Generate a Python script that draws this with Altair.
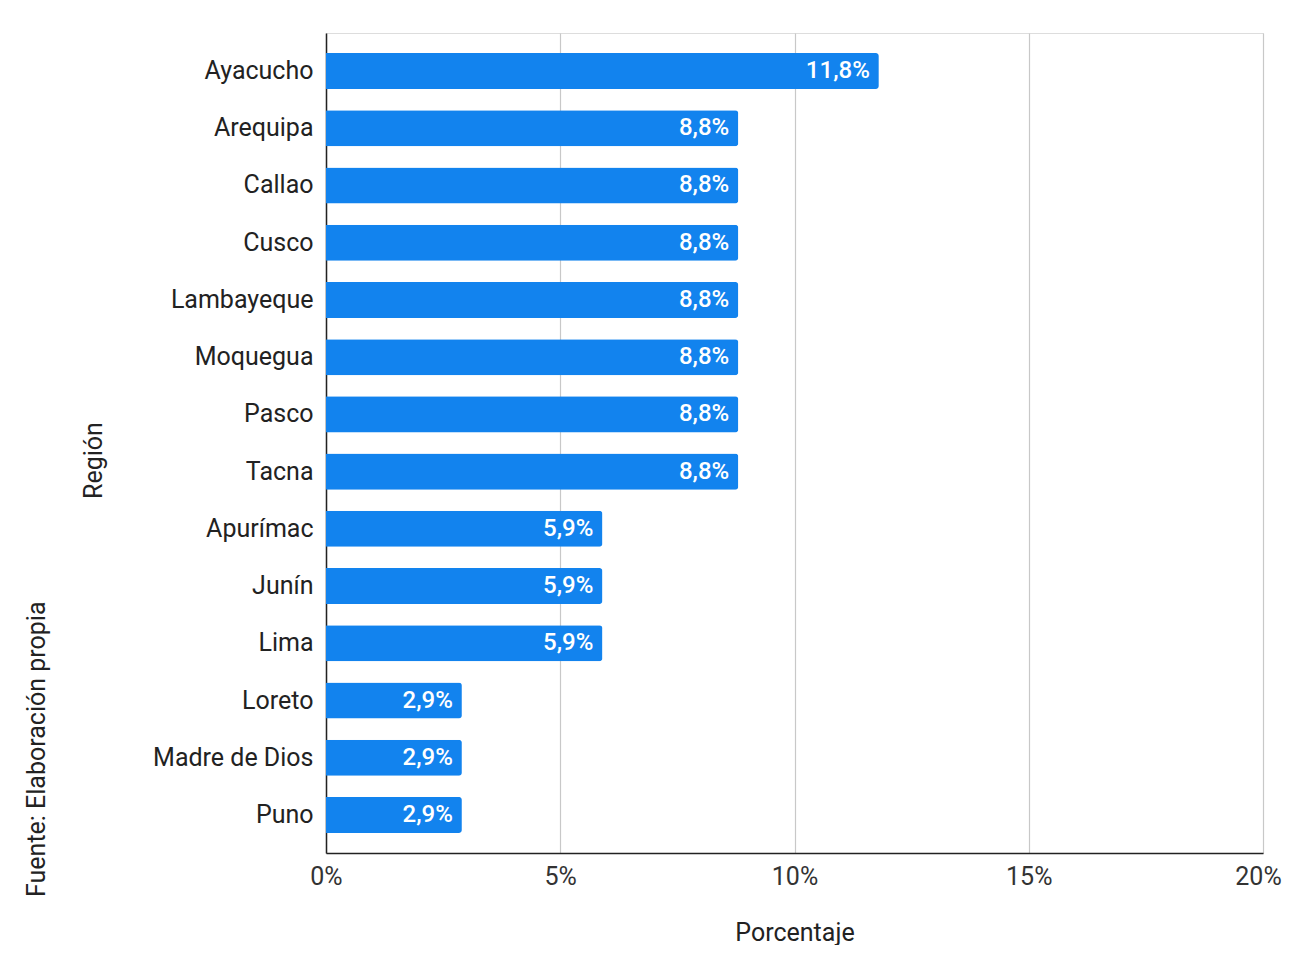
import altair as alt
import pandas as pd

regions = ["Ayacucho", "Arequipa", "Callao", "Cusco", "Lambayeque", "Moquegua", "Pasco",
           "Tacna", "Apurímac", "Junín", "Lima", "Loreto", "Madre de Dios", "Puno"]
values = [11.8, 8.8, 8.8, 8.8, 8.8, 8.8, 8.8, 8.8, 5.9, 5.9, 5.9, 2.9, 2.9, 2.9]
labels = ["11,8%", "8,8%", "8,8%", "8,8%", "8,8%", "8,8%", "8,8%", "8,8%",
          "5,9%", "5,9%", "5,9%", "2,9%", "2,9%", "2,9%"]
x_ticks = [0, 5, 10, 15, 20]

df = pd.DataFrame({"region": regions, "value": values, "label": labels})

FONT = "Roboto"
FS = 25
BLUE = "#1283EE"

y_enc = alt.Y("region:N", sort=regions,
              scale=alt.Scale(paddingInner=0.37, paddingOuter=0.35),
              axis=alt.Axis(title="Región", titleFont=FONT, titleFontSize=FS,
                            titleFontWeight="normal", titleColor="#222",
                            titleAngle=270, titleX=-233, titleY=427,
                            titleAlign="center", titleBaseline="middle",
                            labelFont=FONT, labelFontSize=FS, labelColor="#222",
                            labelPadding=13, ticks=False, domainColor="#222",
                            domainWidth=1.5, grid=False))

x_enc = alt.X("value:Q", scale=alt.Scale(domain=[0, 20], nice=False),
              axis=alt.Axis(title="Porcentaje", values=x_ticks,
                            labelExpr="datum.value + '%'",
                            labelOffset=alt.ExprRef("datum.value == 20 ? -5 : 0"),
                            titleFont=FONT, titleFontSize=FS, titleFontWeight="normal",
                            titleColor="#222", titlePadding=31,
                            labelFont=FONT, labelFontSize=FS, labelColor="#333",
                            labelPadding=11, ticks=False, domainColor="#222",
                            domainWidth=1.5, grid=True, gridColor="#c8c8c8",
                            gridWidth=1.2, labelFlush=False))

bars = alt.Chart(df).mark_bar(color=BLUE, cornerRadiusTopRight=3,
                              cornerRadiusBottomRight=3).encode(x=x_enc, y=y_enc)

text = alt.Chart(df).mark_text(align="right", baseline="middle", dx=-9, dy=0,
                               color="white", font=FONT, fontSize=24,
                               fontWeight=500).encode(
    x=alt.X("value:Q"), y=alt.Y("region:N", sort=regions), text="label:N")

source = alt.Chart(pd.DataFrame({"t": ["Fuente: Elaboración propia"]})).mark_text(
    angle=270, align="left", baseline="middle", font=FONT, fontSize=FS,
    color="#222").encode(x=alt.value(-289), y=alt.value(864), text="t:N")

chart = alt.layer(bars, text, source).properties(
    width=937, height=820,
    autosize=alt.AutoSizeParams(type="none"),
    padding={"left": 318, "top": 25, "right": 19, "bottom": 92},
).configure_view(stroke=None).configure(background="white")

chart.save("out.html", embed_options={"renderer": "svg", "actions": False})
